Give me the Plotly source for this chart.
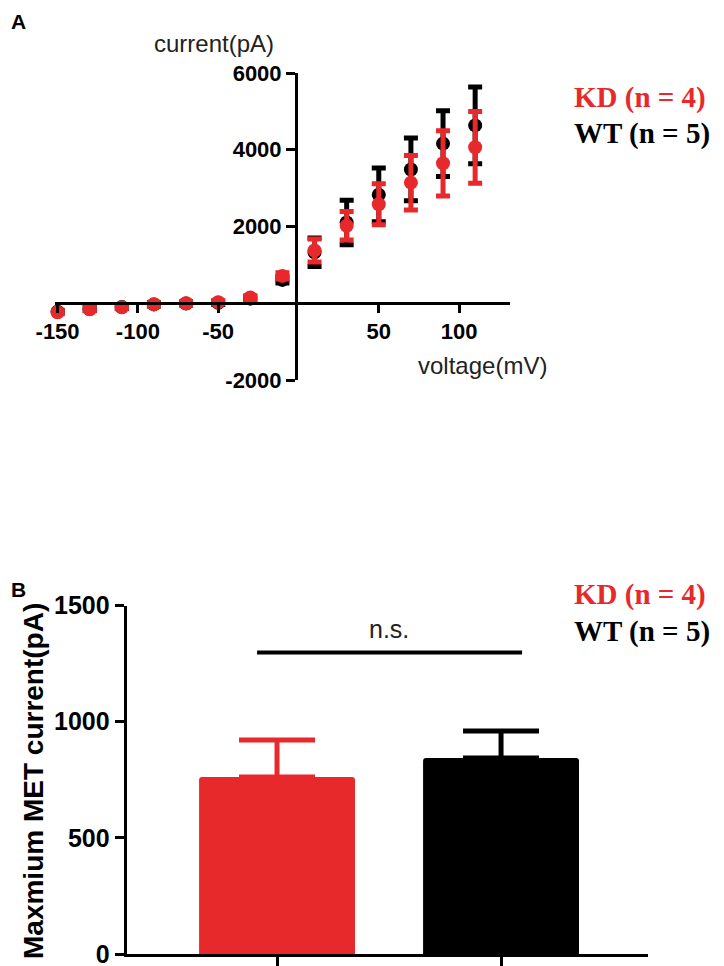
import plotly.graph_objects as go

# ---------------- data ----------------
voltage_mV = [-150, -130, -110, -90, -70, -50, -30, -10, 10, 30, 50, 70, 90, 110]
kd_current = [-235, -157, -104, -26, 0, 26, 148, 713, 1374, 2020, 2578, 3143, 3648, 4065]
kd_sem = [40, 40, 40, 40, 40, 40, 50, 80, 300, 370, 535, 710, 850, 935]
wt_current = [-220, -150, -100, -30, -5, 10, 120, 609, 1330, 2104, 2826, 3487, 4160, 4635]
wt_sem = [40, 40, 40, 40, 40, 40, 50, 80, 370, 580, 700, 817, 857, 1000]

groups = ["KD", "WT"]
max_current = [762, 844]
max_sem = [159, 116]

x_ticks_A = [-150, -100, -50, 50, 100]
y_ticks_A = [-2000, 0, 2000, 4000, 6000]
y_ticklabels_A = ["-2000", "", "2000", "4000", "6000"]
y_ticks_B = [0, 500, 1000, 1500]

legend_labels = ["KD (n = 4)", "WT (n = 5)"]

RED = "#e8292b"
BLACK = "#000000"
W, H = 724, 966
OFF = 8  # page body margin in the browser


def px(x):
    return (x - OFF) / W


def py(y):
    return 1 - (y - OFF) / H


fig = go.Figure()

# ---------------- panel A ----------------
fig.add_trace(go.Scatter(
    x=voltage_mV, y=wt_current, mode="markers", name="WT",
    marker=dict(color=BLACK, size=14),
    error_y=dict(type="data", array=wt_sem, visible=True, color=BLACK,
                 thickness=5, width=7),
    cliponaxis=False, xaxis="x", yaxis="y", showlegend=False))
fig.add_trace(go.Scatter(
    x=voltage_mV, y=kd_current, mode="markers", name="KD",
    marker=dict(color=RED, size=14),
    error_y=dict(type="data", array=kd_sem, visible=True, color=RED,
                 thickness=5, width=7),
    cliponaxis=False, xaxis="x", yaxis="y", showlegend=False))

# ---------------- panel B ----------------
bar_colors = [RED, BLACK]
for i, g in enumerate(groups):
    fig.add_trace(go.Bar(
        x=[g], y=[max_current[i]], width=0.696,
        marker=dict(color=bar_colors[i], line=dict(width=0), cornerradius=3),
        error_y=dict(type="data", array=[max_sem[i]], arrayminus=[0], symmetric=False,
                     visible=True, color=bar_colors[i], thickness=5, width=38),
        xaxis="x2", yaxis="y2", showlegend=False))

tickfontA = dict(family="Liberation Sans, Arial", size=22, color="black", weight="bold")
tickfontB = dict(family="Liberation Sans, Arial", size=25, color="black", weight="bold")

fig.update_layout(
    width=W, height=H,
    margin=dict(l=0, r=0, t=0, b=0, autoexpand=False),
    paper_bgcolor="white", plot_bgcolor="white",
    barmode="overlay",
    xaxis=dict(domain=[px(55), px(510)], range=[-151.6, 131.7],
               anchor="free", position=py(303), automargin=False,
               showline=True, linecolor="black", linewidth=3,
               ticks="outside", ticklen=8, tickwidth=3, tickcolor="black",
               tickvals=x_ticks_A, ticktext=[str(v) for v in x_ticks_A],
               tickfont=tickfontA, showgrid=False, zeroline=False),
    yaxis=dict(domain=[py(380), py(73)], range=[-2000, 6000],
               anchor="free", position=px(296), automargin=False,
               showline=True, linecolor="black", linewidth=3,
               ticks="outside", ticklen=9, tickwidth=3, tickcolor="black",
               tickvals=y_ticks_A, ticktext=y_ticklabels_A,
               tickfont=tickfontA, showgrid=False, zeroline=False),
    xaxis2=dict(domain=[px(126.7), px(648)], range=[-0.671, 1.656],
                anchor="y2", automargin=False,
                showline=True, linecolor="black", linewidth=3,
                ticks="outside", ticklen=10, tickwidth=3, tickcolor="black",
                showticklabels=False, showgrid=False, zeroline=False),
    yaxis2=dict(domain=[py(954), py(605.5)], range=[0, 1500],
                anchor="x2", automargin=False,
                showline=True, linecolor="black", linewidth=3,
                ticks="outside", ticklen=9, tickwidth=3, tickcolor="black",
                tickvals=y_ticks_B, tickfont=tickfontB,
                showgrid=False, zeroline=False),
)

ann = []
# panel letters
ann.append(dict(text="<b>A</b>", x=px(9), y=py(21), xref="paper", yref="paper",
                xanchor="left", yanchor="middle", showarrow=False,
                font=dict(family="Liberation Sans, Arial", size=21, color="black")))
ann.append(dict(text="<b>B</b>", x=px(9), y=py(589), xref="paper", yref="paper",
                xanchor="left", yanchor="middle", showarrow=False,
                font=dict(family="Liberation Sans, Arial", size=21, color="black")))
# axis titles panel A
ann.append(dict(text="current(pA)", x=px(214), y=py(43), xref="paper", yref="paper",
                xanchor="center", yanchor="middle", showarrow=False,
                font=dict(family="Liberation Sans, Arial", size=24, color="#222")))
ann.append(dict(text="voltage(mV)", x=px(416), y=py(365), xref="paper", yref="paper",
                xanchor="left", yanchor="middle", showarrow=False,
                font=dict(family="Liberation Sans, Arial", size=24, color="#222")))
# y title panel B
ann.append(dict(text="<b>Maxmium MET current(pA)</b>", x=px(33), y=py(781),
                xref="paper", yref="paper", textangle=-90,
                xanchor="center", yanchor="middle", showarrow=False,
                font=dict(family="Liberation Sans, Arial", size=28, color="black")))
# legends (text keys)
for (ky, wy) in [(97, 133), (594, 631)]:
    ann.append(dict(text="<b>" + legend_labels[0] + "</b>", x=px(572), y=py(ky),
                    xref="paper", yref="paper", xanchor="left", yanchor="middle",
                    showarrow=False,
                    font=dict(family="Liberation Serif, Times New Roman", size=29, color=RED)))
    ann.append(dict(text="<b>" + legend_labels[1] + "</b>", x=px(572), y=py(wy),
                    xref="paper", yref="paper", xanchor="left", yanchor="middle",
                    showarrow=False,
                    font=dict(family="Liberation Serif, Times New Roman", size=29, color=BLACK)))
# significance
ann.append(dict(text="n.s.", x=0.5, y=1399, xref="x2", yref="y2",
                xanchor="center", yanchor="middle", showarrow=False,
                font=dict(family="Liberation Sans, Arial", size=25, color="#222")))
fig.update_layout(annotations=ann)

fig.add_shape(type="line", xref="x2", yref="y2", x0=-0.089, x1=1.094, y0=1298, y1=1298,
              line=dict(color="black", width=4))

fig.write_html("out.html")
